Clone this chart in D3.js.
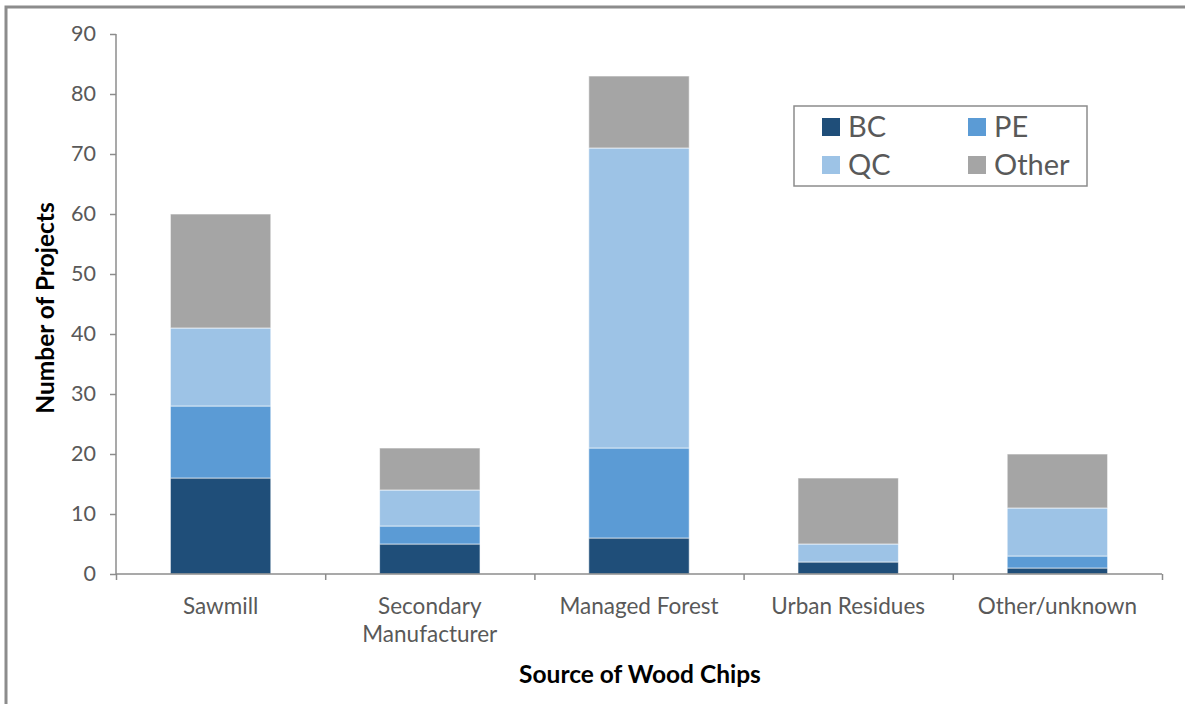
<!DOCTYPE html>
<html>
<head>
<meta charset="utf-8">
<title>Source of Wood Chips</title>
<script src="https://d3js.org/d3.v7.min.js"></script>
<style>
  body { margin: 0; background: white; }
  svg { display: block; font-family: Lato, "Open Sans", sans-serif; }
  .tick text { fill: #595959; }
</style>
</head>
<body>
<svg id="chart" width="1185" height="704"></svg>
<script>
// data
const categories = ["Sawmill", "Secondary Manufacturer", "Managed Forest", "Urban Residues", "Other/unknown"];
const seriesNames = ["BC", "PE", "QC", "Other"];
const BC    = [16, 5, 6, 2, 1];
const PE    = [12, 3, 15, 0, 2];
const QC    = [13, 6, 50, 3, 8];
const Other = [19, 7, 12, 11, 9];
const yTicks = [0, 10, 20, 30, 40, 50, 60, 70, 80, 90];

const colors = ["#1F4E79", "#5B9BD5", "#9DC3E6", "#A5A5A5"];

const rows = categories.map((c, i) => ({cat: c, BC: BC[i], PE: PE[i], QC: QC[i], Other: Other[i]}));

const svg = d3.select("#chart");
const m = {left: 116, right: 1162, top: 34, bottom: 574};

// outer chart border (only top and left show in the frame)
svg.append("rect")
  .attr("x", 6).attr("y", 7)
  .attr("width", 1200).attr("height", 720)
  .attr("fill", "none").attr("stroke", "#8c8c8c").attr("stroke-width", 3);

const x = d3.scaleBand().domain(categories).range([m.left, m.right]).paddingInner(0.52).paddingOuter(0.26);
const xTickScale = d3.scaleLinear().domain([0, categories.length]).range([m.left, m.right]);
const y = d3.scaleLinear().domain([0, 90]).range([m.bottom, m.top]);
const color = d3.scaleOrdinal(seriesNames, colors);

const stacked = d3.stack().keys(seriesNames)(rows);

svg.append("g")
  .selectAll("g")
  .data(stacked)
  .join("g")
    .attr("fill", d => color(d.key))
  .selectAll("rect")
  .data(d => d)
  .join("rect")
    .attr("x", d => x(d.data.cat))
    .attr("y", d => y(d[1]))
    .attr("width", x.bandwidth())
    .attr("height", d => y(d[0]) - y(d[1]))
    .attr("stroke", "#ffffff")
    .attr("stroke-opacity", 0.6)
    .attr("stroke-width", 1);

// y axis
const yAxis = svg.append("g")
  .attr("transform", `translate(${m.left},0)`)
  .call(d3.axisLeft(y).tickValues(yTicks).tickSize(6).tickPadding(14));
yAxis.selectAll("line, path").attr("stroke", "#8c8c8c").attr("stroke-width", 1.5);
yAxis.select(".domain").attr("d", `M0,${m.top}V${m.bottom}`);
yAxis.selectAll("text").attr("font-size", 21.5).attr("font-family", "Lato, sans-serif");

// x axis with ticks between categories
const xAxis = svg.append("g")
  .attr("transform", `translate(0,${m.bottom})`)
  .call(d3.axisBottom(xTickScale).tickValues(d3.range(0, categories.length + 1)).tickSize(6).tickFormat(""));
xAxis.selectAll("line, path").attr("stroke", "#8c8c8c").attr("stroke-width", 1.5);
xAxis.select(".domain").attr("d", `M${m.left},0H${m.right}`);

// category labels
const labelLines = {"Secondary Manufacturer": ["Secondary", "Manufacturer"]};
svg.append("g")
  .selectAll("text")
  .data(categories)
  .join("text")
    .attr("x", d => x(d) + x.bandwidth() / 2)
    .attr("y", 614)
    .attr("text-anchor", "middle")
    .attr("font-size", 22.5)
    .attr("fill", "#595959")
  .selectAll("tspan")
  .data(d => labelLines[d] || [d])
  .join("tspan")
    .attr("x", function() { return this.parentNode.getAttribute("x"); })
    .attr("dy", (d, i) => i === 0 ? 0 : 28)
    .text(d => d);

// axis titles
svg.append("text")
  .attr("x", 640).attr("y", 683)
  .attr("text-anchor", "middle")
  .attr("font-size", 24.5).attr("font-weight", "bold")
  .text("Source of Wood Chips");

svg.append("text")
  .attr("transform", "translate(54,308) rotate(-90)")
  .attr("text-anchor", "middle")
  .attr("font-size", 24.5).attr("font-weight", "bold")
  .text("Number of Projects");

// legend
const legend = svg.append("g").attr("transform", "translate(794,106)");
legend.append("rect")
  .attr("width", 293).attr("height", 80)
  .attr("fill", "white").attr("stroke", "#8c8c8c").attr("stroke-width", 1.5);
const items = legend.selectAll("g.item")
  .data(seriesNames)
  .join("g")
    .attr("class", "item")
    .attr("transform", (d, i) => `translate(${i % 2 === 0 ? 28 : 174},${i < 2 ? 12 : 50})`);
items.append("rect")
  .attr("width", 18).attr("height", 18)
  .attr("fill", d => color(d));
items.append("text")
  .attr("x", 26).attr("y", 9)
  .attr("dy", "0.36em")
  .attr("font-size", 29)
  .attr("fill", "#595959")
  .text(d => d);
</script>
</body>
</html>
